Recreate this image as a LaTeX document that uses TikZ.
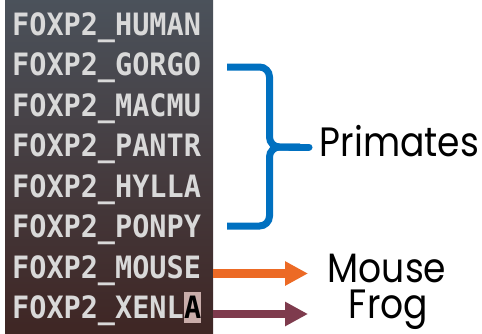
\documentclass[tikz,border=0pt]{standalone}
\usepackage{fontspec}
\usetikzlibrary{arrows.meta,calc}
\newfontfamily\seqfont{DejaVu Sans Mono}
\newfontfamily\labfont{Poppins}
\definecolor{seqgray}{HTML}{D9D9D9}
\definecolor{paneltop}{HTML}{4B525B}
\definecolor{panelmid}{HTML}{474852}
\definecolor{panelbot}{HTML}{3F2624}
\definecolor{hlcol}{HTML}{C9ADAA}
\definecolor{bracecol}{HTML}{0070C0}
\definecolor{mousecol}{HTML}{EC6A25}
\definecolor{frogcol}{HTML}{7E3B4D}
\begin{document}
\begin{tikzpicture}[x=1pt,y=-1pt,
  seq/.style={font=\seqfont\bfseries\fontsize{28.5}{30}\selectfont, text=seqgray, inner sep=0pt, anchor=base west, yscale=1.08},
  lab/.style={font=\labfont\fontsize{41}{43}\selectfont, inner sep=0pt, anchor=base, xscale=0.88},
  brc/.style={draw=bracecol, line width=7pt, rounded corners=10pt},
  arr/.style={line width=8.3pt, -{Triangle[length=23pt,width=23pt]}}]
\useasboundingbox (0,0) rectangle (482,333);
\shade[top color=paneltop, middle color=panelmid, bottom color=panelbot] (5,0) rectangle (213,333);
\foreach \n/\y [count=\i] in {HUMAN/35,GORGO/75.5,MACMU/116,PANTR/156.5,HYLLA/197,PONPY/237.5,MOUSE/278}
  \node[seq] (s\i) at (12,\y) {FOXP2\_\n};
\node[seq] (s8) at (12,318.5) {FOXP2\_XENL};
\node[seq, fill=hlcol, text=black, text height=25pt, text depth=4.2pt] (s8a) at (s8.base east) {A};
% labels
\node[lab] (prim) at (399.5,156) {Primates};
\node[lab] (mouse) at (387,282) {Mouse};
\node[lab] (frog) at (388.5,318) {Frog};
% brace
\draw[brc] (227,67) -- (269.5,67) -- (269.5,147) -- (300,147);
\draw[brc] (227,226) -- (269.5,226) -- (269.5,147) -- (300,147);
\coordinate (bt) at (290,147);
\coordinate (be) at (309,147);
\draw[brc, line cap=round] (bt) -- (be);
% arrows
\coordinate (m0) at (213,273.5);
\coordinate (m1) at (308,273.5);
\coordinate (f0) at (213,314);
\coordinate (f1) at (308,314);
\draw[arr, mousecol] (m0) -- (m1);
\draw[arr, frogcol] (f0) -- (f1);
\end{tikzpicture}
\end{document}
